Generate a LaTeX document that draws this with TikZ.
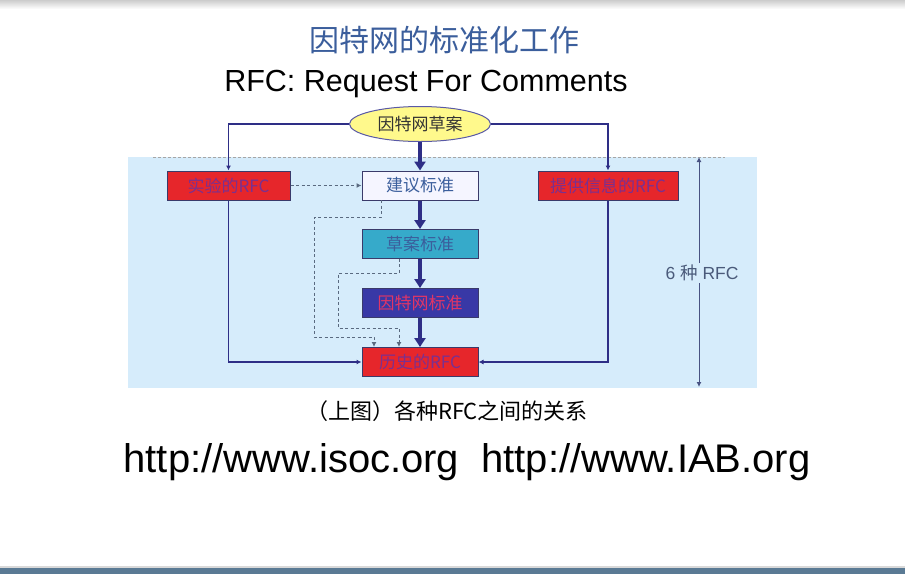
\documentclass[tikz,border=0pt]{standalone}
\usepackage{fontspec}
\setmainfont{Liberation Sans}
\newfontfamily\cjk{Noto Sans CJK SC}
\usetikzlibrary{arrows.meta,shapes.geometric}
\definecolor{panel}{HTML}{D6ECFB}
\definecolor{titleblue}{HTML}{3B5E9C}
\definecolor{rfcred}{HTML}{E6262B}
\definecolor{rfctext}{HTML}{7A3090}
\definecolor{navy}{HTML}{2E2E86}
\definecolor{edge}{HTML}{3A3A6A}
\definecolor{teal}{HTML}{36AACA}
\definecolor{stdblue}{HTML}{3838A6}
\definecolor{stdtext}{HTML}{E03566}
\definecolor{dashgray}{HTML}{5A6A80}
\definecolor{spantext}{HTML}{4A5A7A}
\definecolor{frameband}{HTML}{5A7A94}
\tikzset{
  x=1pt, y=-1pt,
  rfcbox/.style={draw=edge, line width=1pt, minimum width=123pt, minimum height=29pt,
    inner sep=0pt, font=\cjk\fontsize{17}{17}\selectfont},
  redbox/.style={rfcbox, fill=rfcred, text=rfctext},
  stdbox/.style={rfcbox, minimum width=116pt},
  flow/.style={draw=navy, line width=3.6pt, -{Triangle[length=9pt,width=11pt]}},
  thin/.style={draw=navy, line width=1.6pt, -{Latex[length=5pt,width=5pt]}},
  dotted link/.style={draw=dashgray, line width=1pt, dash pattern=on 3pt off 2.5pt,
    -{Latex[length=5pt,width=5pt]}},
  span/.style={draw=dashgray!60!navy, line width=1pt, -{Latex[length=5pt,width=5pt]}}
}
\begin{document}
\begin{tikzpicture}
\useasboundingbox (0,0) rectangle (905,574);
\fill[white] (0,0) rectangle (905,574);
% window frame bands
\shade[top color=gray!40, bottom color=white] (0,0) rectangle (905,9);
\fill[frameband] (0,568) rectangle (905,574);
\fill[gray!30] (0,566) rectangle (905,568);

% headings
\node[font=\cjk\fontsize{30}{30}\selectfont, text=titleblue] (title) at (444,40) {因特网的标准化工作};
\node[font=\fontsize{30.5}{30.5}\selectfont] (sub) at (426,84) {RFC: Request For Comments};

% background panel
\fill[panel] (128,157) rectangle (757,388);
\draw[gray!70, line width=0.9pt, dash pattern=on 3pt off 2pt] (153,157) -- (725,157);

% nodes
\node[ellipse, draw=gray!70!blue, fill=yellow!45, line width=1pt, minimum width=141pt,
  minimum height=35pt, inner sep=0pt, font=\cjk\fontsize{17}{17}\selectfont, text=black!80]
  (draft) at (420,124) {因特网草案};
\node[redbox] (exp) at (228.5,185.5) {实验的RFC};
\node[stdbox, fill=white!96!blue, text=titleblue] (prop) at (420,185.5) {建议标准};
\node[redbox, minimum width=140pt] (info) at (608,185.5) {提供信息的RFC};
\node[stdbox, fill=teal, text=titleblue] (dstd) at (420,244) {草案标准};
\node[stdbox, fill=stdblue, text=stdtext] (istd) at (420,303) {因特网标准};
\node[redbox, minimum width=116pt] (hist) at (420,362) {历史的RFC};

% main path
\draw[flow] (draft) -- (prop);
\draw[flow] (prop) -- (dstd);
\draw[flow] (dstd) -- (istd);
\draw[flow] (istd) -- (hist);

% side branches
\draw[thin] (draft.west) -| (exp.north);
\draw[thin] (draft.east) -| (info.north);
\draw[thin] (exp.south) |- (hist.west);
\draw[thin] (info.south) |- (hist.east);

% dashed transitions
\draw[dotted link] (exp.east) -- (prop.west);
\coordinate (p1) at (381,200);
\coordinate (h1) at (374,347);
\draw[dotted link] (p1) -- (381,217) -- (314,217) -- (314,337) -- (374,337) -- (h1);
\coordinate (d1) at (399,258.5);
\coordinate (h2) at (399,347);
\draw[dotted link] (d1) -- (399,273) -- (338,273) -- (338,328) -- (399,328) -- (h2);

% span marker
\coordinate (spantop) at (699,157);
\coordinate (spanbot) at (699,387);
\node[fill=panel, inner sep=2pt, text=spantext, font=\fontsize{17.5}{17.5}\selectfont]
  (six) at (702,273) {6 {\cjk 种} RFC};
\draw[span] (six.north -| spantop) -- (spantop);
\draw[span] (six.south -| spanbot) -- (spanbot);

% caption and links
\node[font=\cjk\fontsize{22}{22}\selectfont] (cap) at (447,411) {（上图）各种RFC之间的关系};
\node[font=\fontsize{40}{40}\selectfont] (urls) at (467,462) {http://www.isoc.org\ \ http://www.IAB.org};
\end{tikzpicture}
\end{document}
